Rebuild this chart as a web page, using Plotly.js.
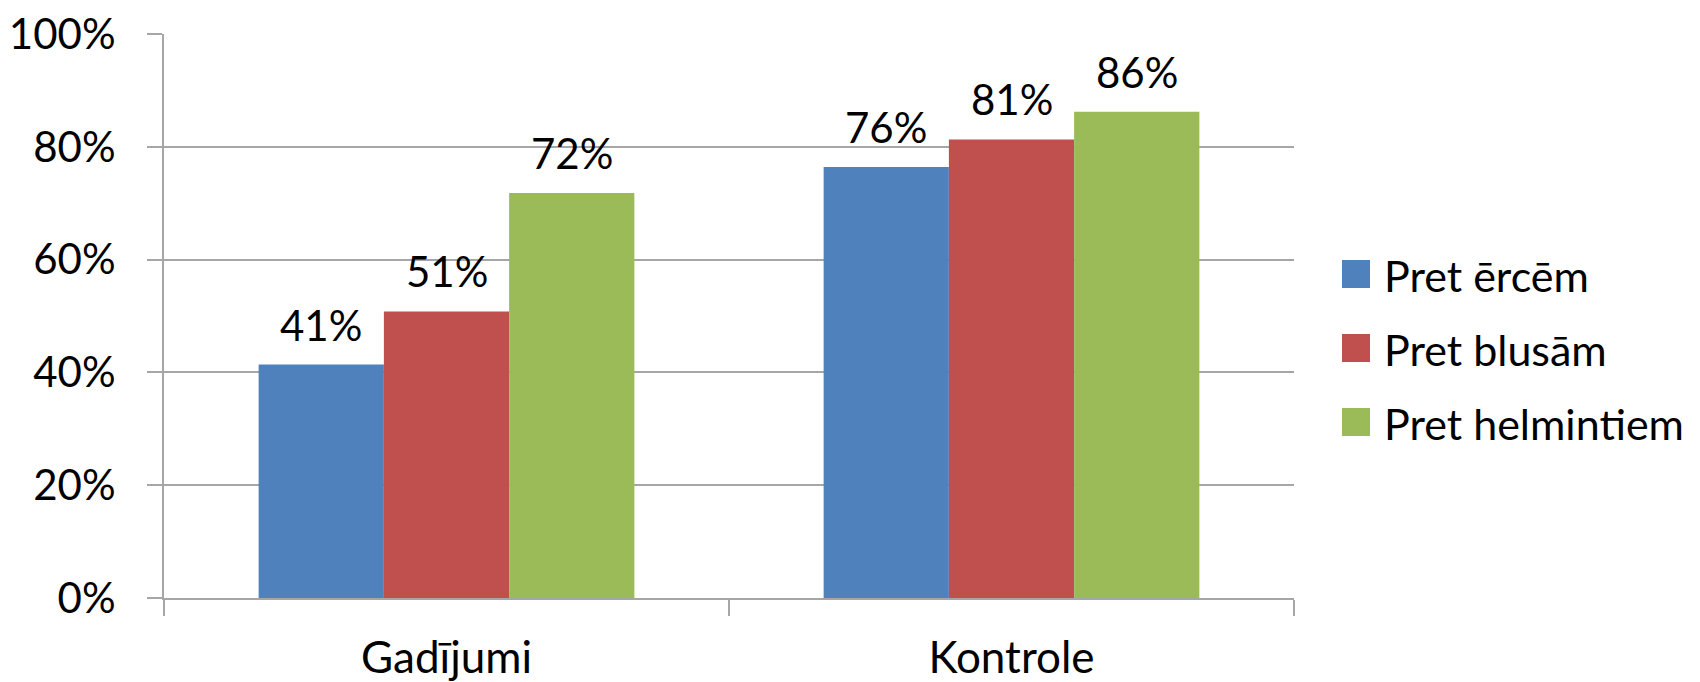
<!DOCTYPE html>
<html>
<head>
<meta charset="utf-8">
<script src="https://cdn.plot.ly/plotly-3.0.1.min.js"></script>
<style>html,body{margin:0;padding:0;background:#fff;}#chart{width:1700px;height:682px;}</style>
</head>
<body>
<div id="chart"></div>
<script>
// ---- data ----
const categories = ['Gadījumi', 'Kontrole'];
const seriesNames = ['Pret ērcēm', 'Pret blusām', 'Pret helmintiem'];
const seriesColors = ['#4F81BD', '#C0504D', '#9BBB59'];
const valErcem = [41.4, 76.4];
const valBlusam = [50.8, 81.3];
const valHelmintiem = [71.8, 86.2];
const yTickVals = [0, 20, 40, 60, 80, 100];
const yTickText = ['0%', '20%', '40%', '60%', '80%', '100%'];

const seriesValues = [valErcem, valBlusam, valHelmintiem];

// ---- layout constants ----
const W = 1700, H = 682;
const M = {l: 164, r: 406, t: 34, b: 84};
const plotW = W - M.l - M.r, plotH = H - M.t - M.b;
const BARGAP = 0.335;
const FONT = 'Lato, "Liberation Sans", sans-serif';
const GRID = '#a6a6a6';

const traces = seriesValues.map((vals, i) => ({
  type: 'bar',
  x: categories,
  y: vals,
  name: seriesNames[i],
  marker: {color: seriesColors[i], line: {width: 0}},
  showlegend: false,
  hoverinfo: 'skip'
}));

// data labels above bars
const barPx = plotW / categories.length * (1 - BARGAP) / seriesValues.length;
const annotations = [];
seriesValues.forEach((vals, i) => {
  vals.forEach((v, j) => {
    annotations.push({
      x: categories[j], y: v, xref: 'x', yref: 'y',
      xshift: (i - (seriesValues.length - 1) / 2) * barPx,
      yshift: 13,
      yanchor: 'bottom', xanchor: 'center',
      text: Math.round(v) + '%',
      showarrow: false,
      font: {family: FONT, size: 42, color: '#000'}
    });
  });
});

// custom legend (square swatches + text)
const px2x = px => (px - M.l) / plotW;
const px2y = py => (H - M.b - py) / plotH;
const shapes = [];
const legSq = 28, legX = 1342, legY0 = 274, legStep = 74, legTextX = 1382;
seriesNames.forEach((nm, i) => {
  const cy = legY0 + i * legStep;
  shapes.push({
    type: 'rect', xref: 'paper', yref: 'paper',
    x0: px2x(legX), x1: px2x(legX + legSq),
    y0: px2y(cy + legSq / 2), y1: px2y(cy - legSq / 2),
    fillcolor: seriesColors[i], line: {width: 0}
  });
  annotations.push({
    xref: 'paper', yref: 'paper', x: px2x(legTextX), y: px2y(cy + 1),
    xanchor: 'left', yanchor: 'middle', showarrow: false,
    text: nm, font: {family: FONT, size: 43, color: '#000'}
  });
});

const layout = {
  width: W, height: H,
  margin: {l: M.l, r: M.r, t: M.t, b: M.b, pad: 0},
  paper_bgcolor: '#fff', plot_bgcolor: '#fff',
  barmode: 'group', bargap: BARGAP, bargroupgap: 0,
  showlegend: false,
  font: {family: FONT, color: '#000'},
  xaxis: {
    type: 'category',
    showline: true, linecolor: GRID, linewidth: 2,
    ticks: 'outside', tickson: 'boundaries', ticklen: 16, tickwidth: 2, tickcolor: GRID,
    tickfont: {family: FONT, size: 44, color: '#000'},
    ticklabelstandoff: 20,
    showgrid: false, zeroline: false, fixedrange: true
  },
  yaxis: {
    range: [0, 100],
    tickmode: 'array', tickvals: yTickVals, ticktext: yTickText,
    showgrid: true, gridcolor: GRID, gridwidth: 2,
    showline: true, linecolor: GRID, linewidth: 2,
    ticks: 'outside', ticklen: 15, tickwidth: 2, tickcolor: GRID,
    tickfont: {family: FONT, size: 42, color: '#000'},
    ticklabelstandoff: 23,
    zeroline: false, fixedrange: true
  },
  annotations: annotations,
  shapes: shapes
};

Plotly.newPlot('chart', traces, layout, {displayModeBar: false, staticPlot: true});
</script>
</body>
</html>
